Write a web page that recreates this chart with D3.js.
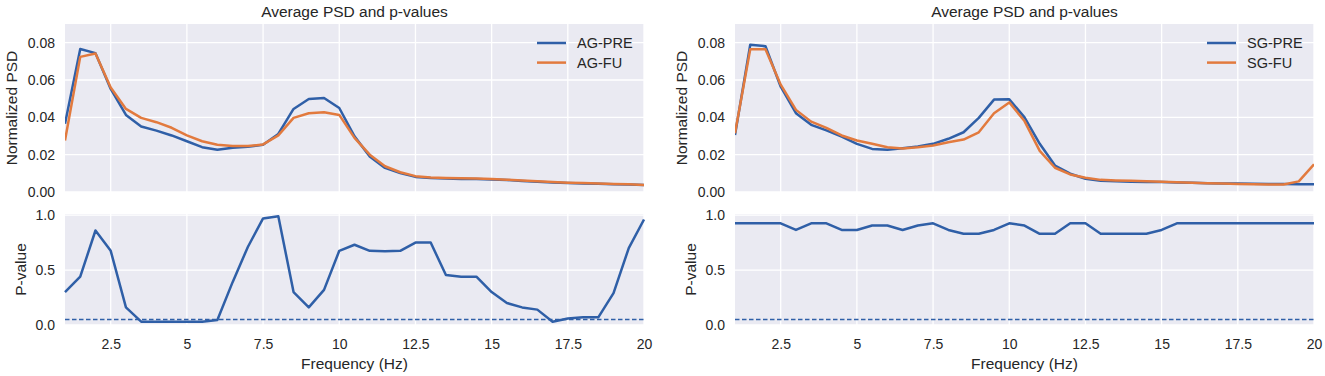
<!DOCTYPE html>
<html>
<head>
<meta charset="utf-8">
<script src="https://cdn.jsdelivr.net/npm/d3@7"></script>
<style>
  body { margin: 0; background: #fff; }
  text { font-family: "Liberation Sans", Arial, sans-serif; fill: #262626; }
</style>
</head>
<body>
<script>
// frequencies (Hz)
var freqs = [1, 1.5, 2, 2.5, 3, 3.5, 4, 4.5, 5, 5.5, 6, 6.5, 7, 7.5, 8, 8.5, 9, 9.5, 10, 10.5,
             11, 11.5, 12, 12.5, 13, 13.5, 14, 14.5, 15, 15.5, 16, 16.5, 17, 17.5, 18, 18.5, 19, 19.5, 20];

var agPre = [0.0365, 0.0766, 0.0744, 0.0552, 0.0413, 0.0351, 0.0329, 0.0303, 0.0272, 0.0240,
             0.0226, 0.0237, 0.0242, 0.0253, 0.0311, 0.0445, 0.0498, 0.0504, 0.0450, 0.0298,
             0.0190, 0.0129, 0.0102, 0.0081, 0.0075, 0.0072, 0.0070, 0.0069, 0.0067, 0.0064,
             0.0059, 0.0055, 0.0051, 0.0048, 0.0046, 0.0044, 0.0042, 0.0040, 0.0037];
var agFu = [0.0276, 0.0724, 0.0742, 0.0560, 0.0445, 0.0397, 0.0374, 0.0344, 0.0303, 0.0272,
            0.0253, 0.0247, 0.0246, 0.0255, 0.0303, 0.0397, 0.0422, 0.0427, 0.0413, 0.0290,
            0.0200, 0.0138, 0.0106, 0.0085, 0.0078, 0.0075, 0.0073, 0.0072, 0.0070, 0.0066,
            0.0061, 0.0057, 0.0053, 0.0050, 0.0048, 0.0046, 0.0043, 0.0041, 0.0038];
var agP = [0.30, 0.44, 0.86, 0.675, 0.16, 0.03, 0.03, 0.03, 0.03, 0.03,
           0.045, 0.39, 0.71, 0.97, 0.99, 0.30, 0.16, 0.32, 0.675, 0.73,
           0.675, 0.67, 0.675, 0.75, 0.75, 0.455, 0.44, 0.44, 0.30, 0.20,
           0.16, 0.14, 0.03, 0.06, 0.07, 0.07, 0.29, 0.70, 0.96];

var sgPre = [0.0305, 0.0789, 0.0781, 0.0564, 0.0422, 0.0360, 0.0330, 0.0297, 0.0258, 0.0231,
             0.0226, 0.0235, 0.0244, 0.0258, 0.0285, 0.0320, 0.0397, 0.0495, 0.0497, 0.0400,
             0.0258, 0.0142, 0.0098, 0.0071, 0.0060, 0.0057, 0.0055, 0.0054, 0.0053, 0.0051,
             0.0049, 0.0047, 0.0046, 0.0045, 0.0044, 0.0043, 0.0043, 0.0042, 0.0042];
var sgFu = [0.0315, 0.0765, 0.0765, 0.0575, 0.0440, 0.0377, 0.0344, 0.0303, 0.0276, 0.0258,
            0.0240, 0.0233, 0.0240, 0.0249, 0.0267, 0.0281, 0.0320, 0.0422, 0.0480, 0.0380,
            0.0220, 0.0130, 0.0094, 0.0076, 0.0065, 0.0062, 0.0060, 0.0058, 0.0055, 0.0052,
            0.0049, 0.0047, 0.0045, 0.0043, 0.0041, 0.0040, 0.0040, 0.0057, 0.0148];
var sgP = [0.925, 0.925, 0.925, 0.925, 0.865, 0.925, 0.925, 0.865, 0.865, 0.905,
           0.905, 0.865, 0.905, 0.925, 0.865, 0.83, 0.83, 0.865, 0.925, 0.905,
           0.83, 0.83, 0.925, 0.925, 0.83, 0.83, 0.83, 0.83, 0.865, 0.925,
           0.925, 0.925, 0.925, 0.925, 0.925, 0.925, 0.925, 0.925, 0.925];

var xTicks = [2.5, 5, 7.5, 10, 12.5, 15, 17.5, 20];
var psdTicks = [0, 0.02, 0.04, 0.06, 0.08];
var pTicks = [0, 0.5, 1];
var threshold = 0.05;

var blue = "#2f5fa7";
var orange = "#e27a3e";
var bg = "#eaeaf2";
var font = "'Liberation Sans', Arial, sans-serif";

var svg = d3.select("body").append("svg")
    .attr("width", 1325)
    .attr("height", 376);

function drawPanel(x0, x1, names, pre, fu, pvals) {
    var top = { y0: 24, y1: 192 };
    var bot = { y0: 214, y1: 325 };
    var x = d3.scaleLinear().domain([1, 20]).range([x0, x1]);
    var yPsd = d3.scaleLinear().domain([0, 0.09]).range([top.y1, top.y0]);
    var yP = d3.scaleLinear().domain([0, 1.01]).range([bot.y1, bot.y0]);

    [[top, yPsd, psdTicks, d3.format(".2f")], [bot, yP, pTicks, d3.format(".1f")]].forEach(function (a) {
        var box = a[0], y = a[1], ticks = a[2], fmt = a[3];
        var g = svg.append("g");
        g.append("rect")
            .attr("x", x0).attr("y", box.y0)
            .attr("width", x1 - x0).attr("height", box.y1 - box.y0)
            .attr("fill", bg);
        g.selectAll(".gx").data(xTicks).enter().append("line")
            .attr("x1", function (d) { return x(d); }).attr("x2", function (d) { return x(d); })
            .attr("y1", box.y0).attr("y2", box.y1)
            .attr("stroke", "#fff").attr("stroke-width", 1.3);
        g.selectAll(".gy").data(ticks).enter().append("line")
            .attr("x1", x0).attr("x2", x1)
            .attr("y1", function (d) { return y(d); }).attr("y2", function (d) { return y(d); })
            .attr("stroke", "#fff").attr("stroke-width", 1.3);
        var ax = svg.append("g")
            .attr("transform", "translate(" + (x0 - 4) + ",0)")
            .call(d3.axisLeft(y).tickValues(ticks).tickFormat(fmt).tickSize(0).tickPadding(6));
        ax.select(".domain").remove();
        ax.selectAll("text").style("font-size", "14px").attr("fill", "#262626")
            .style("font-family", font);
    });

    var xa = svg.append("g")
        .attr("transform", "translate(0," + (bot.y1 + 4) + ")")
        .call(d3.axisBottom(x).tickValues(xTicks).tickFormat(d3.format("")).tickSize(0).tickPadding(10));
    xa.select(".domain").remove();
    xa.selectAll("text").style("font-size", "14px").attr("fill", "#262626")
        .style("font-family", font);

    var psdLine = d3.line()
        .x(function (d, i) { return x(freqs[i]); })
        .y(function (d) { return yPsd(d); });
    var pLine = d3.line()
        .x(function (d, i) { return x(freqs[i]); })
        .y(function (d) { return yP(d); });

    var clipId = "clip" + x0;
    svg.append("clipPath").attr("id", clipId).append("rect")
        .attr("x", x0).attr("y", top.y0 - 2).attr("width", x1 - x0).attr("height", top.y1 - top.y0 + 2);

    svg.append("path").datum(pre).attr("d", psdLine)
        .attr("fill", "none").attr("stroke", blue).attr("stroke-width", 2.5)
        .attr("stroke-linejoin", "round").attr("clip-path", "url(#" + clipId + ")");
    svg.append("path").datum(fu).attr("d", psdLine)
        .attr("fill", "none").attr("stroke", orange).attr("stroke-width", 2.5)
        .attr("stroke-linejoin", "round").attr("clip-path", "url(#" + clipId + ")");

    svg.append("line")
        .attr("x1", x0).attr("x2", x1)
        .attr("y1", yP(threshold)).attr("y2", yP(threshold))
        .attr("stroke", blue).attr("stroke-width", 1.4).attr("stroke-dasharray", "4.5,2.5");
    svg.append("path").datum(pvals).attr("d", pLine)
        .attr("fill", "none").attr("stroke", blue).attr("stroke-width", 2.5)
        .attr("stroke-linejoin", "round");

    // legend
    var lg = svg.append("g").attr("transform", "translate(" + (x1 - 107) + ",43)");
    [[names[0], blue], [names[1], orange]].forEach(function (it, i) {
        lg.append("line")
            .attr("x1", 0).attr("x2", 29)
            .attr("y1", i * 19.6).attr("y2", i * 19.6)
            .attr("stroke", it[1]).attr("stroke-width", 2.5);
        lg.append("text")
            .attr("x", 40).attr("y", i * 19.6 + 5)
            .style("font-size", "14.5px")
            .text(it[0]);
    });

    var cx = (x0 + x1) / 2;
    svg.append("text")
        .attr("x", cx).attr("y", 17)
        .attr("text-anchor", "middle")
        .style("font-size", "15.5px")
        .text("Average PSD and p-values");
    svg.append("text")
        .attr("x", cx).attr("y", 369)
        .attr("text-anchor", "middle")
        .style("font-size", "15.5px")
        .text("Frequency (Hz)");
    svg.append("text")
        .attr("transform", "translate(" + (x0 - 48) + "," + ((top.y0 + top.y1) / 2) + ") rotate(-90)")
        .attr("text-anchor", "middle")
        .style("font-size", "15.5px")
        .text("Normalized PSD");
    svg.append("text")
        .attr("transform", "translate(" + (x0 - 39) + "," + ((bot.y0 + bot.y1) / 2) + ") rotate(-90)")
        .attr("text-anchor", "middle")
        .style("font-size", "15.5px")
        .text("P-value");
}

drawPanel(65, 644, ["AG-PRE", "AG-FU"], agPre, agFu, agP);
drawPanel(735, 1314, ["SG-PRE", "SG-FU"], sgPre, sgFu, sgP);
</script>
</body>
</html>
